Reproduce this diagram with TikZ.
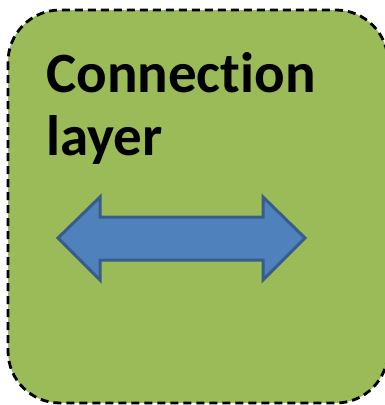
\documentclass[tikz,border=0pt]{standalone}
\usepackage{fontspec}
\setmainfont[Ligatures=CommonOff]{Carlito}
\usetikzlibrary{shapes.arrows}
\definecolor{layergreen}{HTML}{9BBB59}
\definecolor{arrowblue}{HTML}{4F81BD}
\definecolor{arrowedge}{HTML}{385D8A}
\tikzset{
  layerbox/.style={fill=layergreen, draw=black, line width=2.8pt, dash pattern=on 8pt off 5pt, rounded corners=52pt},
  title/.style={font=\fontsize{57}{63}\selectfont\bfseries, align=left, anchor=north west, inner sep=0pt},
  dblarrow/.style={fill=arrowblue, draw=arrowedge, line width=3pt, line join=miter}
}
\begin{document}
\begin{tikzpicture}[x=1pt,y=-1pt]
  \useasboundingbox (0,0) rectangle (385,405);
  % the layer box, running slightly past the right edge
  \draw[layerbox] (8,10) rectangle (388,403);
  \node[title] (label) at (46,52) {Connection\\layer};
  % two-headed arrow
  \draw[dblarrow] (58,238) -- (100,197) -- (100,217) -- (263,217) -- (263,197)
    -- (305,238) -- (263,280) -- (263,260) -- (100,260) -- (100,280) -- cycle;
\end{tikzpicture}
\end{document}
